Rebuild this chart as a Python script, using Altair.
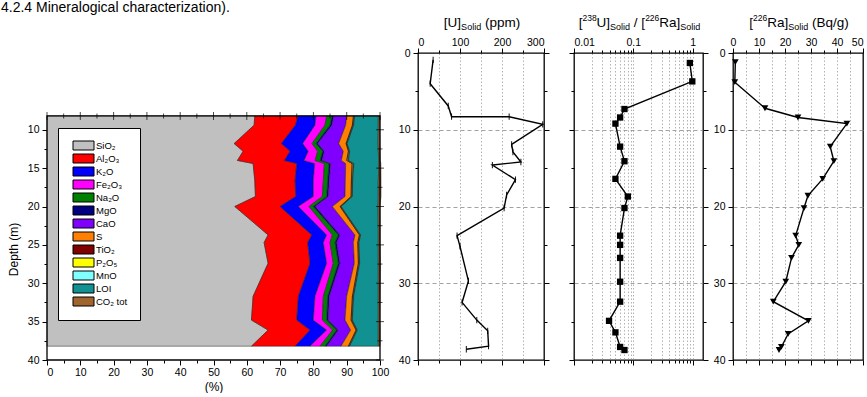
import altair as alt
import pandas as pd

FONT = "Liberation Sans"
HEADER = "4.2.4 Mineralogical characterization)."

# ---------------- composition panel data ----------------
comp_depth = [8.2, 9.4, 11.8, 12.8, 14.0, 14.4, 16.6, 18.7, 20.0, 23.7, 24.7, 27.4, 31.7, 34.8, 36.1, 38.2]
oxide_names = ["SiO₂", "Al₂O₃", "K₂O", "Fe₂O₃", "Na₂O", "MgO", "CaO", "S",
               "TiO₂", "P₂O₅", "MnO", "LOI", "CO₂ tot"]
oxide_colors = ["#c0c0c0", "#ff0000", "#0000ff", "#ff00ff", "#008000", "#000080", "#8000ff",
                "#ff8000", "#800000", "#ffff00", "#80ffff", "#119191", "#a0642d"]
sio2 = [62.4, 62.2, 56.2, 58.9, 57.2, 61.9, 62.4, 62.6, 56.4, 66.4, 65.2, 66.4, 61.9, 61.4, 66.4, 61.4]
al2o3 = [13.0, 12.4, 14.2, 14.1, 14.1, 13.1, 12.1, 12.1, 13.6, 13.1, 13.1, 12.6, 13.6, 13.6, 12.6, 13.1]
k2o = [5.4, 5.9, 6.4, 5.5, 5.9, 5.4, 5.5, 5.3, 5.5, 4.5, 4.7, 5.0, 5.0, 5.0, 5.0, 4.5]
fe2o3 = [3.2, 3.0, 2.8, 2.8, 3.3, 2.9, 3.0, 2.7, 3.2, 1.7, 2.0, 2.0, 2.5, 2.7, 1.8, 3.0]
na2o = [1.6, 1.5, 1.2, 1.5, 1.5, 1.4, 1.3, 1.3, 1.3, 1.8, 1.5, 1.5, 1.3, 1.3, 1.2, 1.5]
mgo = [0.5, 0.6, 0.5, 0.5, 0.6, 0.5, 0.5, 0.5, 0.6, 0.5, 0.5, 0.5, 0.5, 0.5, 0.5, 0.5]
cao = [3.9, 4.1, 6.3, 5.7, 5.8, 4.5, 4.8, 5.0, 5.1, 4.5, 5.0, 4.3, 5.2, 5.0, 3.7, 4.3]
sulf = [2.0, 2.0, 2.2, 1.5, 1.6, 1.9, 1.8, 1.8, 2.3, 1.3, 1.3, 1.2, 1.7, 1.8, 1.6, 2.2]
tio2 = [0.2, 0.2, 0.2, 0.2, 0.2, 0.2, 0.2, 0.2, 0.2, 0.2, 0.2, 0.2, 0.2, 0.2, 0.2, 0.2]
p2o5 = [0.15, 0.15, 0.1, 0.15, 0.3, 0.3, 0.15, 0.15, 0.1, 0.15, 0.15, 0.15, 0.15, 0.15, 0.15, 0.15]
mno = [0.05, 0.05, 0.05, 0.05, 0.05, 0.05, 0.05, 0.05, 0.05, 0.05, 0.05, 0.05, 0.05, 0.05, 0.05, 0.05]
loi = [7.1, 7.4, 9.3, 8.6, 9.1, 7.5, 7.7, 7.8, 11.1, 5.3, 5.8, 5.6, 7.4, 7.8, 6.3, 8.6]
co2 = [0.5, 0.4, 0.5, 0.5, 0.4, 0.6, 0.8, 0.8, 0.5, 0.5, 0.5, 0.6, 0.5, 0.4, 0.5, 0.5]
comp_series = [sio2, al2o3, k2o, fe2o3, na2o, mgo, cao, sulf, tio2, p2o5, mno, loi, co2]

# ---------------- profile data ----------------
u_depth = [0.9, 4.0, 6.9, 8.3, 8.3, 9.3, 11.9, 12.9, 14.2, 14.6, 16.5, 18.5, 20.2, 23.8, 25.2,
           29.7, 32.5, 34.8, 36.2, 38.2, 38.6]
u_ppm = [36, 29, 72, 80, 217, 297, 223, 226, 245, 177, 232, 211, 205, 93, 100,
         120, 105, 140, 166, 168, 115]

ratio_depth = [1.3, 3.7, 7.3, 8.4, 9.2, 12.2, 14.1, 16.4, 18.7, 20.2, 23.8, 25.0, 26.7, 29.8,
               32.4, 34.9, 36.4, 38.3, 38.7]
ratio_val = [0.90, 0.99, 0.071, 0.060, 0.050, 0.060, 0.071, 0.050, 0.081, 0.071, 0.060, 0.060,
             0.060, 0.060, 0.060, 0.039, 0.050, 0.060, 0.071]

ra_depth = [1.2, 3.8, 7.2, 8.4, 9.2, 12.2, 14.1, 16.4, 18.6, 20.2, 23.8, 25.0, 26.7, 29.8,
            32.4, 34.9, 36.6, 38.3, 38.7]
ra_val = [0.9, 0.7, 12.3, 25.0, 43.8, 37.4, 38.8, 34.5, 28.8, 27.3, 24.1, 25.3, 22.5, 20.3,
          15.5, 29.0, 21.2, 18.6, 17.7]

# tick / label sets
depth_ticks_comp = [10, 12.5, 15, 17.5, 20, 22.5, 25, 27.5, 30, 32.5, 35, 37.5, 40]
pct_ticks = [0, 5, 10, 15, 20, 25, 30, 35, 40, 45, 50, 55, 60, 65, 70, 75, 80, 85, 90, 95, 100]
depth_ticks = [0, 5, 10, 15, 20, 25, 30, 35, 40]
u_ticks = [0, 50, 100, 150, 200, 250, 300]
ratio_ticks = [0.01, 0.02, 0.03, 0.04, 0.05, 0.06, 0.07, 0.08, 0.09,
               0.1, 0.2, 0.3, 0.4, 0.5, 0.6, 0.7, 0.8, 0.9, 1.0]
ra_ticks = [0, 5, 10, 15, 20, 25, 30, 35, 40, 45, 50]

# ---------------- helpers ----------------
W = {'[': .278, ']': .278, 'U': .722, 'R': .722, 'a': .556, 'S': .667, 'o': .556, 'l': .222,
     'i': .222, 'd': .556, ' ': .278, '(': .333, ')': .333, 'p': .556, 'm': .833, 'B': .667,
     'q': .556, '/': .278, 'g': .556}
for c in "0123456789":
    W[c] = .556


def tw(t, size):
    return sum(W.get(c, .556) for c in t) * size


one = pd.DataFrame({"v": [0]})


def title_layers(pieces, center, base_y):
    total = sum(tw(t, s) for t, s, _ in pieces)
    x = center - total / 2
    out = []
    for t, s, dy in pieces:
        lead = len(t) - len(t.lstrip(" "))
        x_draw = x + tw(" " * lead, s)
        out.append(alt.Chart(one).mark_text(text=t.strip(), align="left", baseline="alphabetic",
                                            fontSize=s, font=FONT, color="black")
                   .encode(x=alt.value(x_draw), y=alt.value(base_y + dy)))
        x += tw(t, s)
    return out


FRAME = alt.ViewBackground(stroke="black", strokeWidth=1.3)
NOFRAME = alt.ViewBackground(stroke="transparent")
depth_scale = alt.Scale(domain=[0, 40], reverse=True, nice=False, zero=False)

# ---------------- panel 1: composition ----------------
rows = []
for k, (name, vals) in enumerate(zip(oxide_names, comp_series)):
    for d, v in zip(comp_depth, vals):
        rows.append({"depth": d, "oxide": name, "pct": v, "k": k})
comp_df = pd.DataFrame(rows)

P1W = 341
XMAX = 100 * P1W / 333.0
pct_scale = alt.Scale(domain=[0, XMAX], nice=False, zero=False)
PH = 307

x_axis_p1 = alt.Axis(values=pct_ticks, domain=False, title="(%)", titleX=166.5,
                     labelExpr="datum.value % 10 == 0 ? datum.label : ''",
                     tickSize=alt.condition("datum.value % 10 == 0", alt.value(5), alt.value(3)),
                     labelPadding=2, titlePadding=4, grid=False)
y_axis_p1 = alt.Axis(values=depth_ticks_comp, domain=False, title="Depth (m)", titleY=196,
                     labelExpr="datum.value % 5 == 0 ? datum.label : ''",
                     tickSize=alt.condition("datum.value % 5 == 0", alt.value(5), alt.value(3)),
                     labelPadding=3, titlePadding=7, grid=False)
X1 = dict(scale=pct_scale, axis=x_axis_p1)
Y1 = dict(scale=depth_scale, axis=y_axis_p1)

area = alt.Chart(comp_df).mark_area(orient="horizontal", stroke="#222", strokeWidth=0.5).encode(
    x=alt.X("pct:Q", stack="zero", **X1),
    y=alt.Y("depth:Q", **Y1),
    color=alt.Color("oxide:N", scale=alt.Scale(domain=oxide_names, range=oxide_colors),
                    legend=alt.Legend(title=None, orient="none", legendX=11, legendY=75,
                                      strokeColor="black", fillColor="white", padding=12,
                                      labelFontSize=9.5, labelFont=FONT, labelColor="black",
                                      symbolType="M-2.1,-0.9H2.1V0.9H-2.1Z", symbolSize=100,
                                      symbolStrokeColor="black", symbolStrokeWidth=1,
                                      rowPadding=0, labelOffset=7, symbolOffset=8)),
    order=alt.Order("k:Q"),
)

frame_df = pd.DataFrame({"pct": [0], "pct_end": [100], "depth": [comp_depth[0]], "depth_end": [40]})
frame = alt.Chart(frame_df).mark_rect(fill=None, stroke="black", strokeWidth=1.3).encode(
    x=alt.X("pct:Q", **X1), x2="pct_end:Q",
    y=alt.Y("depth:Q", **Y1), y2="depth_end:Q",
)

# mirrored ticks on the top and right edges of the composition frame
top_df = pd.DataFrame({"pct": pct_ticks, "depth": [comp_depth[0]] * len(pct_ticks)})
right_df = pd.DataFrame({"pct": [100] * len(depth_ticks_comp), "depth": depth_ticks_comp})
top_major = alt.Chart(top_df).transform_filter("datum.pct % 10 == 0").mark_tick(
    orient="vertical", size=8, thickness=1, color="black").encode(
    x=alt.X("pct:Q", **X1), y=alt.Y("depth:Q", **Y1))
top_minor = alt.Chart(top_df).transform_filter("datum.pct % 10 != 0").mark_tick(
    orient="vertical", size=5, thickness=1, color="black").encode(
    x=alt.X("pct:Q", **X1), y=alt.Y("depth:Q", **Y1))
right_major = alt.Chart(right_df).transform_filter("datum.depth % 5 == 0").mark_tick(
    orient="horizontal", size=8, thickness=1, color="black").encode(
    x=alt.X("pct:Q", **X1), y=alt.Y("depth:Q", **Y1))
right_minor = alt.Chart(right_df).transform_filter("datum.depth % 5 != 0").mark_tick(
    orient="horizontal", size=5, thickness=1, color="black").encode(
    x=alt.X("pct:Q", **X1), y=alt.Y("depth:Q", **Y1))

header = alt.Chart(one).mark_text(text=HEADER, align="left", baseline="alphabetic", fontSize=14,
                                  font=FONT, color="black").encode(
    x=alt.value(-46), y=alt.value(-41))

p1 = alt.layer(area, frame, top_major, top_minor, right_major, right_minor, header) \
    .properties(width=P1W, height=PH, view=NOFRAME)


# ---------------- right panels ----------------
def profile(df, xscale, xticks, label_expr, major_test, grid_test, marker, width, pieces,
            ylabels=True, right_ticks=True, label_align=None):
    top_axis = dict(orient="top", values=xticks, labelExpr=label_expr, domain=False, title=None,
                    tickSize=alt.condition(major_test, alt.value(5), alt.value(3)),
                    grid=True, gridDash=[1.5, 2], gridColor="#a0a0a0", gridWidth=0.8,
                    gridOpacity=alt.condition(grid_test, alt.value(1), alt.value(0)),
                    labelPadding=1)
    if label_align is not None:
        top_axis["labelAlign"] = label_align
    left_axis = alt.Axis(orient="left", values=depth_ticks, domain=False, title=None,
                         labels=ylabels, labelExpr="datum.value % 10 == 0 ? datum.label : ''",
                         tickSize=alt.condition("datum.value % 10 == 0", alt.value(5), alt.value(3)),
                         grid=True, gridDash=[4, 3], gridColor="#8a8a8a", gridWidth=0.8,
                         gridOpacity=alt.condition("datum.value % 10 == 0 && datum.value > 0 && datum.value < 40",
                                                   alt.value(1), alt.value(0)),
                         labelPadding=3)
    base = alt.Chart(df)
    line = base.mark_line(color="black", strokeWidth=1.4).encode(
        x=alt.X("x:Q", scale=xscale, axis=alt.Axis(**top_axis)),
        y=alt.Y("depth:Q", scale=depth_scale, axis=left_axis),
        order=alt.Order("i:Q"),
    )
    pts = base.mark_point(filled=True, color="black", opacity=1, **marker).encode(
        x=alt.X("x:Q", scale=xscale, axis=None),
        y=alt.Y("depth:Q", scale=depth_scale, axis=None),
    )
    mirror = base.mark_point(opacity=0).encode(
        x=alt.X("x:Q", scale=xscale,
                axis=alt.Axis(orient="bottom", values=xticks, labels=False, domain=False, title=None,
                              grid=False,
                              tickSize=alt.condition(major_test, alt.value(5), alt.value(3)))),
        y=alt.Y("depth:Q", scale=depth_scale,
                axis=alt.Axis(orient="right", values=depth_ticks, labels=False, domain=False,
                              title=None, grid=False, ticks=right_ticks,
                              tickSize=alt.condition("datum.value % 10 == 0", alt.value(5), alt.value(3)))),
    )
    texts = title_layers(pieces, width / 2 + 1, -26.5)
    return alt.layer(line, pts, mirror, *texts).resolve_scale(x="independent", y="independent") \
        .properties(width=width, height=PH, view=FRAME)


u_df = pd.DataFrame({"depth": u_depth, "x": u_ppm, "i": list(range(len(u_ppm)))})
r_df = pd.DataFrame({"depth": ratio_depth, "x": ratio_val, "i": list(range(len(ratio_val)))})
ra_df = pd.DataFrame({"depth": ra_depth, "x": ra_val, "i": list(range(len(ra_val)))})

MAIN, SUB = 13.5, 9

p2 = profile(u_df, alt.Scale(domain=[0, 300], nice=False, zero=False), u_ticks,
             "datum.value % 100 == 0 ? datum.label : ''", "datum.value % 100 == 0",
             "datum.value > 0 && datum.value < 300",
             dict(shape="M-0.15,-1H0.15V1H-0.15Z", size=40),
             126,
             [("[U]", MAIN, 0), ("Solid", SUB, 3), (" (ppm)", MAIN, 0)])

p3 = profile(r_df, alt.Scale(type="log", domain=[0.01, 1.5], nice=False, zero=False), ratio_ticks,
             "datum.value == 0.01 ? '0.01' : datum.value == 0.1 ? '0.1' : datum.value == 1 ? '1' : ''",
             "datum.value == 0.01 || datum.value == 0.1 || datum.value == 1",
             "datum.value > 0.011",
             dict(shape="square", size=40),
             129,
             [("[", MAIN, 0), ("238", SUB - 0.5, -5.5), ("U]", MAIN, 0), ("Solid", SUB, 3),
              (" / [", MAIN, 0), ("226", SUB - 0.5, -5.5), ("Ra]", MAIN, 0), ("Solid", SUB, 3)],
             ylabels=False)

p4 = profile(ra_df, alt.Scale(domain=[0, 50], nice=False, zero=False), ra_ticks,
             "datum.value % 10 == 0 ? datum.label : ''", "datum.value % 10 == 0",
             "datum.value > 0 && datum.value < 50",
             dict(shape="triangle-down", size=45),
             130,
             [("[", MAIN, 0), ("226", SUB - 0.5, -5.5), ("Ra]", MAIN, 0), ("Solid", SUB, 3),
              (" (Bq/g)", MAIN, 0)],
             right_ticks=False,
             label_align=alt.condition("datum.value == 50", alt.value("right"), alt.value("center")))

chart = alt.hconcat(p1, p2, p3, p4, spacing=30, bounds="flush").properties(
    padding={"left": 0, "top": 0, "right": 0, "bottom": 0}
).configure(font=FONT).configure_axis(
    labelFont=FONT, labelFontSize=10.5, labelColor="black", tickColor="black", tickWidth=1,
    titleFont=FONT, titleFontSize=12, titleFontWeight="normal", titleColor="black",
    domainColor="black",
)

chart.save("out.html", embed_options={"renderer": "svg", "actions": False})
